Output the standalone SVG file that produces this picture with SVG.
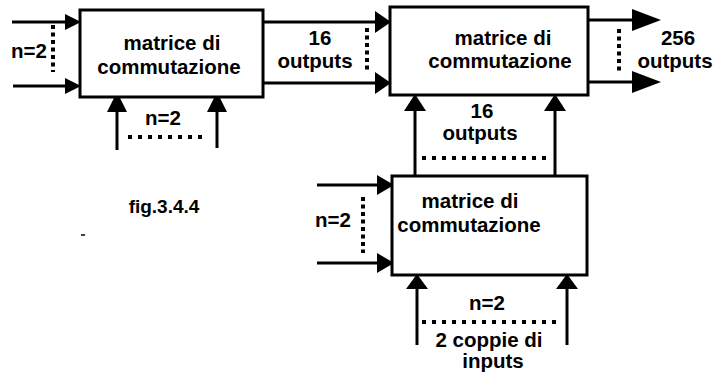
<svg xmlns="http://www.w3.org/2000/svg" width="715" height="376" viewBox="0 0 715 376">
<style>
.box{fill:#fff;stroke:#000;stroke-width:3}
.ln{stroke:#000;stroke-width:3;fill:none}
.ah{fill:#000}
.dv{stroke:#000;stroke-width:4;stroke-dasharray:4 3.5;fill:none}
.dh{stroke:#000;stroke-width:4;stroke-dasharray:4 6;fill:none}
text{font-family:"Liberation Sans",Arial,sans-serif;font-weight:bold;font-size:20.5px;fill:#000;text-anchor:middle}
</style>
<rect width="715" height="376" fill="#fff"/>
<g id="connectors">
  <line class="ln" x1="12" y1="22" x2="68" y2="22"/>
  <polygon class="ah" points="81,22 65,14 65,30"/>
  <line class="ln" x1="13" y1="86" x2="68" y2="86"/>
  <polygon class="ah" points="81,86 65,78 65,94"/>
  <line class="dv" x1="53" y1="25" x2="53" y2="72"/>
  <line class="ln" x1="117" y1="150" x2="117" y2="108"/>
  <polygon class="ah" points="117,92 107,112 127,112"/>
  <line class="ln" x1="217" y1="148" x2="217" y2="108"/>
  <polygon class="ah" points="217,92 207,112 227,112"/>
  <line class="dh" x1="128" y1="137" x2="206" y2="137"/>
  <line class="ln" x1="263" y1="22" x2="380" y2="22"/>
  <polygon class="ah" points="391,22 375,11 375,33"/>
  <line class="ln" x1="263" y1="83" x2="380" y2="83"/>
  <polygon class="ah" points="391,83 375,72 375,94"/>
  <line class="dv" x1="367" y1="28" x2="367" y2="72"/>
  <line class="ln" x1="588" y1="20" x2="634" y2="20"/>
  <polygon class="ah" points="661,20 632,9 632,31"/>
  <line class="ln" x1="588" y1="82" x2="634" y2="82"/>
  <polygon class="ah" points="661,82 632,71 632,93"/>
  <line class="dv" x1="619" y1="29" x2="619" y2="72"/>
  <line class="ln" x1="415" y1="176" x2="415" y2="106"/>
  <polygon class="ah" points="415,94 404,111 426,111"/>
  <line class="ln" x1="555" y1="176" x2="555" y2="106"/>
  <polygon class="ah" points="555,94 544,111 566,111"/>
  <line class="dh" x1="422" y1="158" x2="552" y2="158"/>
  <line class="ln" x1="317" y1="185" x2="382" y2="185"/>
  <polygon class="ah" points="394,185 377,175 377,195"/>
  <line class="ln" x1="317" y1="263" x2="382" y2="263"/>
  <polygon class="ah" points="394,263 377,253 377,273"/>
  <line class="dv" x1="363" y1="197" x2="363" y2="253"/>
  <line class="ln" x1="417" y1="345" x2="417" y2="285"/>
  <polygon class="ah" points="417,274 406,289 428,289"/>
  <line class="ln" x1="567" y1="345" x2="567" y2="285"/>
  <polygon class="ah" points="567,274 556,289 578,289"/>
  <line class="dh" x1="422" y1="322" x2="561" y2="322"/>
</g>
<g id="box1">
  <rect class="box" x="80" y="10" width="183" height="87"/>
  <text x="172" y="50">matrice di</text>
  <text x="169" y="74">commutazione</text>
</g>
<g id="box2">
  <rect class="box" x="390" y="7" width="198" height="88"/>
  <text x="503" y="45">matrice di</text>
  <text x="500" y="68">commutazione</text>
</g>
<g id="box3">
  <rect class="box" x="392" y="176" width="195" height="99"/>
  <text x="470" y="208">matrice di</text>
  <text x="469" y="232">commutazione</text>
</g>
<g id="labels">
  <text x="29" y="58">n=2</text>
  <text x="163" y="125">n=2</text>
  <text x="320" y="45">16</text>
  <text x="315" y="68">outputs</text>
  <text x="678" y="45">256</text>
  <text x="675" y="68">outputs</text>
  <text x="482" y="118">16</text>
  <text x="480" y="140">outputs</text>
  <text x="333" y="227">n=2</text>
  <text x="487" y="310">n=2</text>
  <text x="489" y="347">2 coppie di</text>
  <text x="493" y="368">inputs</text>
  <text x="164" y="213" style="font-size:19px">fig.3.4.4</text>
  <line x1="81" y1="235" x2="85" y2="235" stroke="#000" stroke-width="1.5"/>
</g>
</svg>
